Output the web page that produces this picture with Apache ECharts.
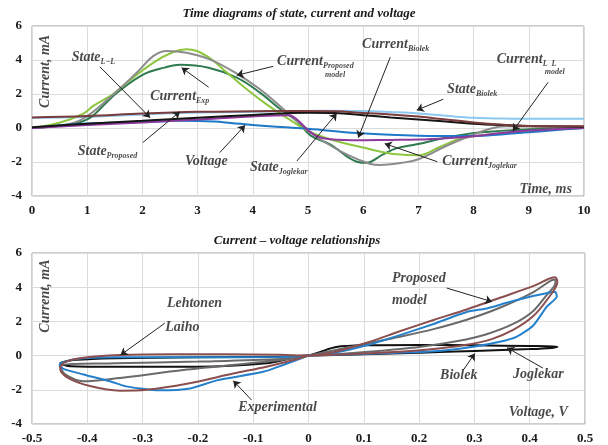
<!DOCTYPE html>
<html>
<head>
<meta charset="utf-8">
<script src="https://cdn.jsdelivr.net/npm/echarts@6/dist/echarts.min.js"></script>
<style>
  html, body { margin: 0; background: #fff; }
  #main { width: 608px; height: 445px; }
</style>
</head>
<body>
<div id="main"></div>
<script>
// ---- top chart: time diagrams, [t (ms), value] ----
const stateBiolek = [[0,0.6],[1,0.65],[2,0.8],[2.7,0.88],[3.5,0.93],[4.5,0.98],[5.3,1.02],[6,1.0],[6.5,0.94],[7,0.86],[7.5,0.72],[8,0.6],[8.5,0.56],[9,0.55],[10,0.55]];
const stateProposed = [[0,0.62],[1,0.7],[2,0.85],[3,0.95],[4,0.98],[5,1.0],[5.5,0.98],[6,0.88],[6.5,0.8],[7,0.67],[7.5,0.5],[8,0.33],[8.5,0.2],[9,0.12],[10,0.1]];
const stateJoglekar = [[0,0.05],[1,0.25],[2,0.42],[3,0.6],[4,0.77],[5,0.9],[5.5,0.88],[6,0.75],[6.5,0.62],[7,0.5],[7.5,0.38],[8,0.25],[8.5,0.17],[9,0.12],[10,0.08]];
const currentBiolek = [[0,0],[1,0.18],[2,0.33],[3,0.5],[4,0.68],[4.65,0.75],[4.8,0.5],[5.05,-0.27],[5.3,-0.62],[5.8,-0.72],[6.5,-0.7],[7,-0.68],[7.5,-0.6],[8,-0.48],[8.5,-0.3],[9,-0.15],[10,0]];
const voltage = [[0,0],[0.5,0.15],[1,0.26],[2,0.35],[2.7,0.42],[3.3,0.38],[3.6,0.3],[4,0.18],[4.5,0.06],[5,-0.04],[5.9,-0.3],[7,-0.45],[8,-0.47],[8.5,-0.38],[9,-0.25],[9.5,-0.12],[10,0]];
const currentExp = [[0,0],[0.4,0.1],[0.75,0.25],[1.05,0.6],[1.35,1.5],[1.53,2.05],[2.02,3.15],[2.4,3.55],[2.68,3.72],[3.2,3.55],[3.71,2.96],[4.13,2.08],[4.5,1.1],[4.8,0.4],[5.05,-0.45],[5.4,-0.96],[5.9,-2.0],[6.05,-2.05],[6.36,-1.55],[6.6,-1.2],[6.97,-0.96],[7.5,-0.57],[8.1,-0.27],[9,-0.08],[10,0]];
const currentJoglekar = [[0,0],[0.51,0.32],[0.93,0.85],[1.11,1.3],[1.47,2.0],[1.72,2.67],[2.2,3.85],[2.56,4.47],[2.8,4.63],[3.16,4.24],[3.53,3.26],[3.89,2.28],[4.25,1.39],[4.61,0.61],[5.0,-0.17],[5.4,-0.66],[6.0,-1.15],[6.6,-1.55],[7.0,-1.6],[7.4,-1.1],[7.8,-0.6],[8.7,-0.27],[10,0]];
const currentProposed = [[0,0],[0.5,0.15],[0.9,0.5],[1.41,1.79],[1.9,3.26],[2.2,4.24],[2.44,4.53],[2.8,4.43],[3.22,4.04],[3.71,3.2],[4.13,2.28],[4.49,1.3],[4.73,0.61],[5.0,-0.1],[5.22,-0.66],[5.7,-1.55],[6.12,-2.1],[6.3,-2.18],[6.7,-2.05],[7.0,-1.84],[7.5,-1.06],[7.93,-0.47],[8.3,-0.04],[8.6,0.1],[9.2,0.08],[10,0.05]];

// ---- bottom chart: current-voltage loops, [V, mA] ----
const ivProposed = [[0,0],[0.045,0.2],[0.105,0.75],[0.165,1.42],[0.226,2.08],[0.286,2.7],[0.346,3.38],[0.406,4.06],[0.446,4.58],[0.45,4.3],[0.431,3.25],[0.406,2.3],[0.37,1.5],[0.33,0.95],[0.28,0.6],[0.226,0.38],[0.165,0.22],[0.1,0.12],[0.045,0.05],[0,0],
  [-0.05,0.05],[-0.15,0.08],[-0.25,0.08],[-0.34,0.03],[-0.41,-0.14],[-0.443,-0.42],[-0.449,-0.8],[-0.435,-1.3],[-0.395,-1.78],[-0.341,-2.05],[-0.293,-2.0],[-0.22,-1.65],[-0.136,-1.05],[-0.076,-0.65],[-0.027,-0.26],[0,0]];
const ivExperimental = [[0,0],[0.045,0.15],[0.105,0.6],[0.165,1.2],[0.226,1.85],[0.286,2.55],[0.322,2.76],[0.36,3.1],[0.406,3.48],[0.446,3.74],[0.449,3.45],[0.431,2.86],[0.406,1.75],[0.376,1.1],[0.346,0.81],[0.298,0.52],[0.226,0.25],[0.105,0.1],[0,0],
  [-0.05,-0.08],[-0.2,-0.1],[-0.35,-0.1],[-0.42,-0.2],[-0.45,-0.5],[-0.443,-0.78],[-0.407,-1.1],[-0.359,-1.5],[-0.33,-1.8],[-0.27,-2.03],[-0.214,-1.92],[-0.166,-1.45],[-0.082,-0.95],[-0.046,-0.55],[0,0]];
const ivLehtonen = [[0,0],[0.045,0.3],[0.105,0.7],[0.165,1.1],[0.226,1.55],[0.286,2.1],[0.346,2.8],[0.406,3.7],[0.44,4.42],[0.447,4.45],[0.445,4.1],[0.431,3.55],[0.406,2.6],[0.37,1.85],[0.322,1.25],[0.27,0.85],[0.2,0.5],[0.12,0.25],[0.05,0.08],[0,0],
  [-0.05,-0.2],[-0.2,-0.35],[-0.35,-0.45],[-0.45,-0.6],[-0.44,-1.1],[-0.407,-1.5],[-0.347,-1.33],[-0.226,-0.84],[-0.106,-0.45],[-0.046,-0.25],[0,0]];
const ivBiolek = [[0,0],[0.02,0.2],[0.05,0.5],[0.1,0.6],[0.2,0.62],[0.3,0.6],[0.4,0.56],[0.45,0.52],[0.44,0.45],[0.4,0.38],[0.3,0.27],[0.2,0.17],[0.1,0.08],[0,0],
  [-0.05,-0.06],[-0.2,-0.1],[-0.35,-0.15],[-0.42,-0.25],[-0.449,-0.45],[-0.43,-0.62],[-0.35,-0.65],[-0.2,-0.65],[-0.076,-0.45],[-0.03,-0.15],[0,0]];

// ---- annotations: [x, y, text, subscript] and arrows [x1, y1, x2, y2] ----
const topNotes = [
  [0.72, 4.16, 'State', 'L−L'],
  [2.14, 1.86, 'Current', 'Exp'],
  [0.83, -1.37, 'State', 'Proposed'],
  [2.77, -1.96, 'Voltage', ''],
  [3.95, -2.31, 'State', 'Joglekar'],
  [4.44, 3.92, 'Current', 'Proposed'],
  [5.98, 4.92, 'Current', 'Biolek'],
  [7.52, 2.27, 'State', 'Biolek'],
  [8.42, 4.04, 'Current', 'L  L'],
  [7.43, -1.96, 'Current', 'Joglekar']
];
const topSmall = [[5.31, 3.15, 'model'], [9.29, 3.27, 'model']];
const topArrows = [
  [1.23, 3.6, 2.14, 0.61], [3.2, 2.4, 2.71, 3.55], [2.01, -0.85, 2.68, 0.96],
  [3.4, -1.45, 3.86, 0.16], [4.8, -1.94, 5.52, 0.86], [4.37, 3.63, 3.71, 3.1],
  [6.49, 4.16, 5.91, -0.57], [7.45, 1.69, 6.97, 1.05], [9.35, 2.69, 8.71, -0.18],
  [7.34, -1.98, 6.39, -0.92]
];
const bottomNotes = [
  [0.151, 4.54, 'Proposed'], [0.151, 3.25, 'model'], [0.238, -1.13, 'Biolek'],
  [0.37, -1.08, 'Joglekar'], [-0.256, 3.08, 'Lehtonen'], [-0.259, 1.67, 'Laiho'],
  [-0.127, -3.0, 'Experimental']
];
const bottomArrows = [
  [0.25, 3.95, 0.332, 3.15], [0.28, -0.84, 0.301, 0.13], [0.424, -0.73, 0.359, 0.46],
  [-0.26, 1.89, -0.34, 0.03], [-0.103, -2.6, -0.136, -1.47]
];

const serif = '"Liberation Serif", "Times New Roman", serif';
const ink = '#1a1a1a';

const chart = echarts.init(document.getElementById('main'));

const curve = (data, color, idx, smooth) => ({
  type: 'line', data, xAxisIndex: idx, yAxisIndex: idx,
  showSymbol: false, smooth: smooth === undefined ? 0.4 : smooth, silent: true,
  lineStyle: { color, width: 2 }, itemStyle: { color }
});

const rich = {
  m: { fontFamily: serif, fontSize: 14, fontWeight: 'bold', fontStyle: 'italic', color: ink, lineHeight: 18 },
  n: { fontFamily: serif, fontSize: 14, fontWeight: 'bold', fontStyle: 'italic', color: ink, lineHeight: 16 },
  s: { fontFamily: serif, fontSize: 8, fontWeight: 'bold', fontStyle: 'italic', color: ink, lineHeight: 8, verticalAlign: 'bottom' },
  t: { fontFamily: serif, fontSize: 8, fontWeight: 'bold', fontStyle: 'italic', color: ink, lineHeight: 10 }
};

const noteSeries = (items, arrows, idx) => ({
  type: 'scatter', xAxisIndex: idx, yAxisIndex: idx, symbolSize: 1, silent: true, z: 10,
  itemStyle: { color: 'transparent' },
  data: items,
  label: { show: true, position: 'inside', align: 'left', verticalAlign: 'middle', formatter: p => p.name, rich },
  markLine: {
    silent: true, animation: false, symbol: ['none', 'arrow'], symbolSize: 7,
    label: { show: false }, emphasis: { disabled: true },
    lineStyle: { color: '#222', width: 1, type: 'solid' },
    data: arrows.map(a => [{ coord: [a[0], a[1]] }, { coord: [a[2], a[3]] }])
  }
});

const topItems = topNotes.map(n => ({ value: [n[0], n[1]], name: n[3] ? `{m|${n[2]}}{s|${n[3]}}` : `{m|${n[2]}}` }))
  .concat(topSmall.map(n => ({ value: [n[0], n[1]], name: `{t|${n[2]}}` })))
  .concat([
    { value: [9.78, -3.6], name: '{m|Time, ms}', label: { align: 'right' } },
    { value: [0.24, 3.33], name: '{m|Current, mA}', label: { align: 'center', rotate: 90 } }
  ]);
const bottomItems = bottomNotes.map(n => ({ value: [n[0], n[1]], name: `{n|${n[2]}}` }))
  .concat([
    { value: [0.469, -3.3], name: '{n|Voltage, V}', label: { align: 'right' } },
    { value: [-0.476, 3.48], name: '{m|Current, mA}', label: { align: 'center', rotate: 90 } }
  ]);

const tickLabel = { fontFamily: serif, fontWeight: 'bold', fontSize: 13, color: ink };
const split = { show: true, lineStyle: { color: '#dcdcdc', width: 1 } };
const baseAxis = {
  type: 'value', axisLine: { show: false }, axisTick: { show: false }, splitLine: split,
  axisLabel: Object.assign({ margin: 8, showMinLabel: true, showMaxLabel: true }, tickLabel)
};

chart.setOption({
  animation: false,
  title: [
    { text: 'Time diagrams of state, current and voltage', left: 294, top: 2, textAlign: 'center',
      textStyle: { fontFamily: serif, fontSize: 13, fontWeight: 'bold', fontStyle: 'italic', color: ink } },
    { text: 'Current – voltage relationships', left: 292, top: 229, textAlign: 'center',
      textStyle: { fontFamily: serif, fontSize: 13, fontWeight: 'bold', fontStyle: 'italic', color: ink } }
  ],
  grid: [
    { left: 32, right: 24, top: 26, height: 170, show: true, borderColor: '#9a9a9a', borderWidth: 1, outerBoundsMode: 'none' },
    { left: 32, right: 23, top: 253, height: 171, show: true, borderColor: '#9a9a9a', borderWidth: 1, outerBoundsMode: 'none' }
  ],
  xAxis: [
    Object.assign({}, baseAxis, { gridIndex: 0, min: 0, max: 10, interval: 1 }),
    Object.assign({}, baseAxis, { gridIndex: 1, min: -0.5, max: 0.5, interval: 0.1,
      axisLabel: Object.assign({}, baseAxis.axisLabel, { formatter: v => String(Math.round(v * 10) / 10) }) })
  ],
  yAxis: [
    Object.assign({}, baseAxis, { gridIndex: 0, min: -4, max: 6, interval: 2,
      axisLabel: Object.assign({}, baseAxis.axisLabel, { margin: 10 }) }),
    Object.assign({}, baseAxis, { gridIndex: 1, min: -4, max: 6, interval: 2,
      axisLabel: Object.assign({}, baseAxis.axisLabel, { margin: 10 }) })
  ],
  series: [
    curve(stateBiolek, '#8cc8ef', 0),
    curve(currentExp, '#2f7a4e', 0),
    curve(currentJoglekar, '#8dc63f', 0),
    curve(currentProposed, '#8c8c8c', 0),
    curve(voltage, '#1f78c8', 0),
    curve(currentBiolek, '#8e3a9d', 0),
    curve(stateJoglekar, '#151515', 0),
    curve(stateProposed, '#7a3c3c', 0),
    noteSeries(topItems, topArrows, 0),

    curve(ivBiolek, '#111111', 1, 0.3),
    curve(ivLehtonen, '#6a6a6a', 1, 0.3),
    curve(ivExperimental, '#2580cc', 1, 0.2),
    curve(ivProposed, '#8b4f50', 1, 0.3),
    noteSeries(bottomItems, bottomArrows, 1)
  ]
});
</script>
</body>
</html>
